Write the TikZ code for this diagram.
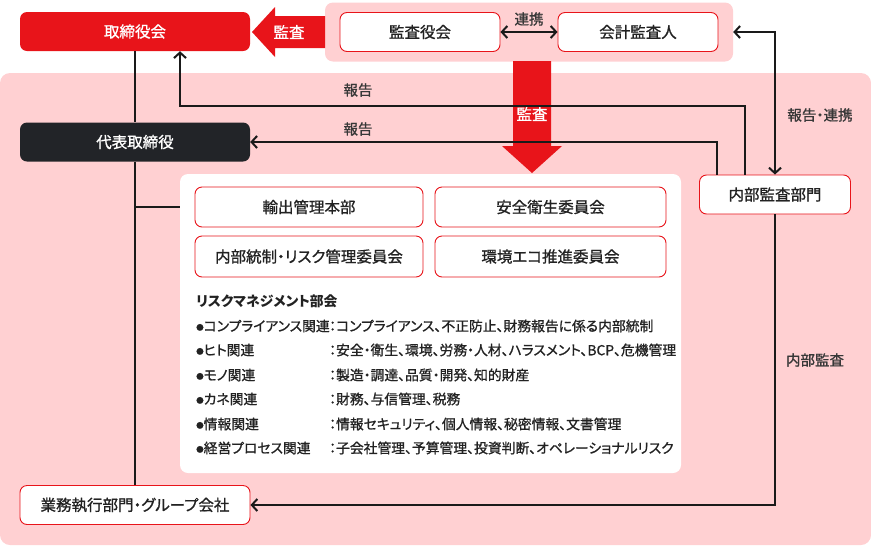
\documentclass[tikz,border=0pt]{standalone}
\usepackage{fontspec}
\setmainfont{Noto Sans CJK JP}[RawFeature={+palt}, FakeBold=1.0, BoldFeatures={FakeBold=0}]
\usetikzlibrary{arrows.meta}
\definecolor{redc}{HTML}{E8141A}
\definecolor{pinkc}{HTML}{FFD0D2}
\definecolor{darkc}{HTML}{222428}
\definecolor{txtc}{HTML}{222222}
\definecolor{linec}{HTML}{1A1A1A}
\newcommand\myfs[1]{\fontsize{#1}{#1}\selectfont}
\begin{document}
\begin{tikzpicture}[x=1pt,y=-1pt,
  bgbox/.style={fill=pinkc, inner sep=0, draw=none},
  box/.style={rounded corners=7pt, minimum height=39pt, inner sep=0, font=\myfs{15.5}, text=txtc},
  wbox/.style={box, draw=redc, line width=0.9pt, fill=white},
  conn/.style={line width=2pt, draw=linec},
  arr/.style={conn, -{Straight Barb[length=5.5pt,width=12pt]}},
  darr/.style={conn, {Straight Barb[length=5.5pt,width=12pt]}-{Straight Barb[length=5.5pt,width=12pt]}},
  lbl/.style={inner sep=0, font=\myfs{14.5}, text=txtc!90},
  lst/.style={inner sep=0, anchor=west, font=\myfs{13.8}, text=txtc},
  wtxt/.style={inner sep=0, font=\myfs{15.5}, text=white}]
\useasboundingbox (0,0) rectangle (871,547);
% backgrounds
\node[bgbox, rounded corners=10pt, minimum width=871pt, minimum height=472pt] (mainbg) at (435.5,309) {};
\node[bgbox, rounded corners=8pt, minimum width=408pt, minimum height=59pt] (topbg) at (529,32) {};
\node[fill=white, inner sep=0, rounded corners=8pt, minimum width=501pt, minimum height=299pt] (inner) at (430.5,323.5) {};
% big arrows
\fill[redc] (325,16) -- (275,16) -- (275,7) -- (252,32) -- (275,57) -- (275,48) -- (325,48) -- cycle;
\node[wtxt] (aud1) at (289,32) {監査};
\fill[redc] (513,61) -- (551,61) -- (551,146) -- (562,146) -- (532,173) -- (502,146) -- (513,146) -- cycle;
\node[wtxt] (aud2) at (532,114) {監査};
% boxes
\node[box, fill=redc, text=white, minimum width=230pt] (bod) at (135,31.5) {取締役会};
\node[box, fill=darkc, text=white, minimum width=230pt] (ceo) at (135,142) {代表取締役};
\node[wbox, minimum width=230pt] (biz) at (135,505) {業務執行部門・グループ会社};
\node[wbox, minimum width=160pt] (kansa) at (420,32) {監査役会};
\node[wbox, minimum width=160pt] (kaikei) at (638,32) {会計監査人};
\node[wbox, minimum width=151pt] (ia) at (775,194.5) {内部監査部門};
\node[wbox, minimum width=228pt, minimum height=40pt] (exp) at (309,207) {輸出管理本部};
\node[wbox, minimum width=231pt, minimum height=40pt] (anzen) at (550.5,207) {安全衛生委員会};
\node[wbox, minimum width=228pt, minimum height=41pt] (naibu) at (309,256.5) {内部統制・リスク管理委員会};
\node[wbox, minimum width=231pt, minimum height=41pt] (kankyo) at (550.5,256.5) {環境エコ推進委員会};
% connectors
\draw[conn] (bod.south) -- (ceo.north);
\draw[conn] (ceo.south) -- (biz.north);
\draw[conn] (ceo.south |- exp.west) -- (inner.west |- exp.west);
\coordinate (r1) at (180,106);
\draw[arr] ([xshift=-30pt]ia.north) |- (r1) -- (r1 |- bod.south);
\draw[arr] ([xshift=-58pt]ia.north) |- (ceo.east);
\draw[darr] (ia.north) |- (topbg.east);
\draw[arr] (ia.south) |- (biz.east);
\draw[darr] (kansa.east) -- (kaikei.west);
% labels
\node[lbl] (l1) at (358,90) {報告};
\node[lbl] (l2) at (358,129) {報告};
\node[lbl] (l3) at (820,115) {報告・連携};
\node[lbl] (l4) at (815,360) {内部監査};
\node[lbl] (l5) at (529,19) {連携};
% list
\node[lst, font=\myfs{13.8}\bfseries] (rt) at (196,301) {リスクマネジメント部会};
\node[lst] (a1) at (196,326) {\raisebox{1pt}{\myfs{7.5}●}コンプライアンス関連};
\node[lst] (b1) at (329,326) {：コンプライアンス、不正防止、財務報告に係る内部統制};
\node[lst] (a2) at (196,350) {\raisebox{1pt}{\myfs{7.5}●}ヒト関連};
\node[lst] (b2) at (329,350) {：安全・衛生、環境、労務・人材、ハラスメント、BCP、危機管理};
\node[lst] (a3) at (196,375) {\raisebox{1pt}{\myfs{7.5}●}モノ関連};
\node[lst] (b3) at (329,375) {：製造・調達、品質・開発、知的財産};
\node[lst] (a4) at (196,399) {\raisebox{1pt}{\myfs{7.5}●}カネ関連};
\node[lst] (b4) at (329,399) {：財務、与信管理、税務};
\node[lst] (a5) at (196,424) {\raisebox{1pt}{\myfs{7.5}●}情報関連};
\node[lst] (b5) at (329,424) {：情報セキュリティ、個人情報、秘密情報、文書管理};
\node[lst] (a6) at (196,448) {\raisebox{1pt}{\myfs{7.5}●}経営プロセス関連};
\node[lst] (b6) at (329,448) {：子会社管理、予算管理、投資判断、オペレーショナルリスク};
\end{tikzpicture}
\end{document}
